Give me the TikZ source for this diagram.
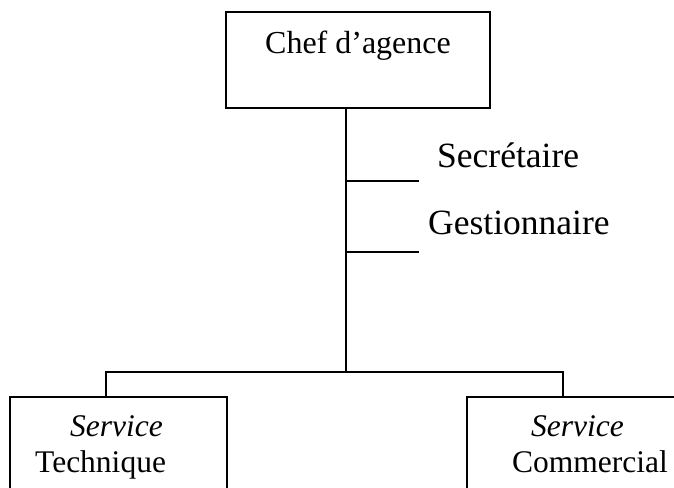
\documentclass[tikz,border=0pt]{standalone}
\usepackage{fontspec}
\setmainfont{Liberation Serif}
\begin{document}
\begin{tikzpicture}[x=1pt,y=-1pt,
  ln/.style={line width=1.6pt,line cap=rect},
  boxnode/.style={draw,line width=1.6pt,rectangle,inner sep=0pt},
  txt/.style={inner sep=0pt,anchor=base west}]
\useasboundingbox (0,0) rectangle (674,487);
\clip (0,0) rectangle (674,487);
% top box
\node[boxnode,minimum width=264pt,minimum height=96pt] (chef) at (358,60) {};
\node[txt,anchor=base] (cheft) at (358,53) {\fontsize{32}{38}\selectfont Chef d’agence};
% trunk
\coordinate (t0) at (346,108);
\coordinate (t1) at (346,181);
\coordinate (t2) at (346,252);
\coordinate (t3) at (346,372);
\coordinate (s1) at (418,181);
\coordinate (s2) at (418,252);
\draw[ln] (t0) -- (t3);
\draw[ln] (t1) -- (s1);
\draw[ln] (t2) -- (s2);
\node[txt] (sec) at (437,167) {\fontsize{35.5}{40}\selectfont Secrétaire};
\node[txt] (ges) at (428,234) {\fontsize{35.5}{40}\selectfont Gestionnaire};
% bottom branch
\coordinate (bl) at (106,372);
\coordinate (br) at (563,372);
\coordinate (bl2) at (106,396);
\coordinate (br2) at (563,396);
\draw[ln] (bl2) -- (bl) -- (br) -- (br2);
% bottom boxes
\node[boxnode,minimum width=217pt,minimum height=130pt,anchor=north west] (tech) at (9,396) {};
\node[boxnode,minimum width=230pt,minimum height=130pt,anchor=north west] (comm) at (466,396) {};
\node[txt] (techa) at (70,436) {\fontsize{31.5}{36}\selectfont\itshape Service};
\node[txt] (techb) at (35,472) {\fontsize{31.5}{36}\selectfont Technique};
\node[txt] (comma) at (531,436) {\fontsize{31.5}{36}\selectfont\itshape Service};
\node[txt] (commb) at (512,472) {\fontsize{31.5}{36}\selectfont Commercial};
\end{tikzpicture}
\end{document}
